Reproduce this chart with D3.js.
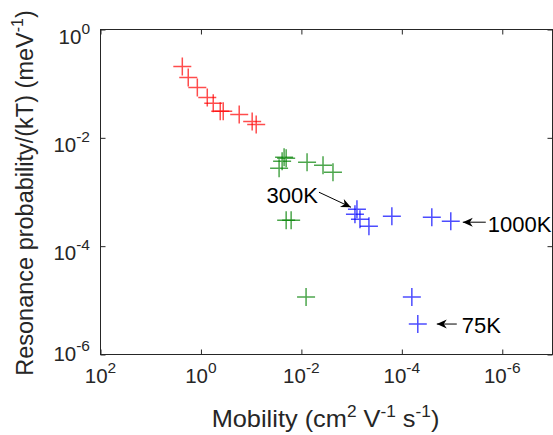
<!DOCTYPE html>
<html><head><meta charset="utf-8">
<script src="https://cdn.jsdelivr.net/npm/d3@7"></script>
<style>
html,body{margin:0;padding:0;background:#fff;}
svg{display:block;font-family:"Liberation Sans",Arial,Helvetica,sans-serif;}
</style></head>
<body>
<svg id="chart" width="553" height="435"></svg>
<script>
// ---- data ----
const redMobility   = [2.35, 1.79, 1.18, 0.748, 0.569, 0.413, 0.360, 0.173, 0.0955, 0.0794];
const redResonance  = [0.208, 0.130, 0.0853, 0.0558, 0.0433, 0.0308, 0.0308, 0.0271, 0.0201, 0.0177];
const greenMobility  = [0.0278, 0.0242, 0.0221, 0.0201, 0.00771, 0.00371, 0.00235, 0.0201, 0.0160, 0.00807];
const greenResonance = [0.00274, 0.00369, 0.00437, 0.00419, 0.00353, 0.00311, 0.00231, 0.000301, 0.000301, 1.15e-5];
const blueMobility   = [7.83e-4, 8.58e-4, 6.82e-4, 4.52e-4, 1.58e-4, 2.53e-5, 1.06e-5, 6.32e-5, 4.81e-5];
const blueResonance  = [4.81e-4, 3.89e-4, 3.15e-4, 2.34e-4, 3.57e-4, 3.42e-4, 2.89e-4, 1.15e-5, 3.65e-6];
const xTickValues = [1e2, 1e0, 1e-2, 1e-4, 1e-6];
const yTickValues = [1e0, 1e-2, 1e-4, 1e-6];
const annLabels = ["300K", "1000K", "75K"];
const annTargets = [0, 6, 8]; // indices into blue series

// ---- layout ----
const svg = d3.select("#chart");
const L = 100.5, R = 552.5, T = 29.5, B = 354.5;
const x = d3.scaleLog().domain([1e2, 1e-7]).range([L, R]);
const y = d3.scaleLog().domain([1e0, 1e-6]).range([T, B]);
const axisCol = "#262626";

// box
svg.append("rect").attr("x", L).attr("y", T).attr("width", R - L).attr("height", B - T)
  .attr("fill", "none").attr("stroke", axisCol).attr("stroke-width", 1);

// ticks (inward) via d3 axes
const tickLen = 5;
const axB = d3.axisBottom(x).tickValues(xTickValues).tickSize(-tickLen).tickFormat("");
const axT = d3.axisTop(x).tickValues(xTickValues).tickSize(-tickLen).tickFormat("");
const axLft = d3.axisLeft(y).tickValues(yTickValues).tickSize(-tickLen).tickFormat("");
const axRt = d3.axisRight(y).tickValues(yTickValues).tickSize(-tickLen).tickFormat("");
[[axB, `translate(0,${B})`], [axT, `translate(0,${T})`], [axLft, `translate(${L},0)`], [axRt, `translate(${R},0)`]]
  .forEach(([ax, tr]) => {
    const g = svg.append("g").attr("transform", tr).call(ax);
    g.select(".domain").remove();
    g.selectAll("line").attr("stroke", axisCol);
  });

function exp10(v) { return Math.round(Math.log10(v)); }

// x tick labels
xTickValues.forEach(v => {
  const t = svg.append("text").attr("x", x(v)).attr("y", 383).attr("text-anchor", "middle")
    .attr("fill", axisCol).attr("font-size", 20.5);
  t.append("tspan").text("10");
  t.append("tspan").attr("dy", -10).attr("font-size", 15.5).text(exp10(v));
});
// y tick labels
yTickValues.forEach(v => {
  const base = Math.min(y(v) + 14, B + 6);
  const t = svg.append("text").attr("x", 90).attr("y", base).attr("text-anchor", "end")
    .attr("fill", axisCol).attr("font-size", 20.5);
  t.append("tspan").text("10");
  t.append("tspan").attr("dy", -10).attr("font-size", 15.5).text(exp10(v));
});

// axis titles
const xt = svg.append("text").attr("transform", `translate(${(L + R) / 2 - 1},427) scale(1.08,1)`)
  .attr("text-anchor", "middle").attr("fill", axisCol).attr("font-size", 23.5);
xt.append("tspan").text("Mobility (cm");
xt.append("tspan").attr("dy", -10).attr("font-size", 16).text("2");
xt.append("tspan").attr("dy", 10).text(" V");
xt.append("tspan").attr("dy", -10).attr("font-size", 16).text("-1");
xt.append("tspan").attr("dy", 10).text(" s");
xt.append("tspan").attr("dy", -10).attr("font-size", 16).text("-1");
xt.append("tspan").attr("dy", 10).text(")");

const yt = svg.append("text").attr("transform", `translate(33,${(T + B) / 2 + 1}) rotate(-90)`)
  .attr("text-anchor", "middle").attr("fill", axisCol).attr("font-size", 23.5);
yt.append("tspan").text("Resonance probability/(kT) (meV");
yt.append("tspan").attr("dy", -10).attr("font-size", 16).text("-1");
yt.append("tspan").attr("dy", 10).text(")");

// markers
const hs = 9;
function plusSeries(xs, ys, col) {
  const pts = xs.map((v, i) => [x(v), y(ys[i])]);
  svg.append("g").selectAll("path").data(pts).join("path")
    .attr("d", d => `M${d[0] - hs},${d[1]}H${d[0] + hs}M${d[0]},${d[1] - hs}V${d[1] + hs}`)
    .attr("stroke", col).attr("stroke-width", 1.5).attr("stroke-opacity", 0.7).attr("fill", "none");
}
plusSeries(redMobility, redResonance, "#ff0000");
plusSeries(greenMobility, greenResonance, "#008000");
plusSeries(blueMobility, blueResonance, "#0000ff");

// annotations
function arrow(x1, y1, x2, y2) {
  svg.append("line").attr("x1", x1).attr("y1", y1).attr("x2", x2).attr("y2", y2)
    .attr("stroke", "#000").attr("stroke-width", 1);
  const a = Math.atan2(y2 - y1, x2 - x1);
  const len = 10, w = 4.5, notch = 7;
  const ux = Math.cos(a), uy = Math.sin(a);
  const p = [
    [x2, y2],
    [x2 - len * ux - w * uy, y2 - len * uy + w * ux],
    [x2 - notch * ux, y2 - notch * uy],
    [x2 - len * ux + w * uy, y2 - len * uy - w * ux]
  ];
  svg.append("path").attr("d", "M" + p.map(q => q.join(",")).join("L") + "Z").attr("fill", "#000");
}
const tgt = annTargets.map(i => [x(blueMobility[i]), y(blueResonance[i])]);
// 300K
arrow(tgt[0][0] - 38, tgt[0][1] - 17, tgt[0][0] - 6, tgt[0][1] - 2);
svg.append("text").attr("x", tgt[0][0] - 39).attr("y", tgt[0][1] - 6).attr("text-anchor", "end")
  .attr("font-size", 22).attr("fill", "#000").text(annLabels[0]);
// 1000K
arrow(tgt[1][0] + 35, tgt[1][1] + 1, tgt[1][0] + 12, tgt[1][1] + 1);
svg.append("text").attr("x", tgt[1][0] + 37).attr("y", tgt[1][1] + 11)
  .attr("font-size", 22).attr("fill", "#000").text(annLabels[1]);
// 75K
arrow(tgt[2][0] + 39, tgt[2][1], tgt[2][0] + 19, tgt[2][1]);
svg.append("text").attr("x", tgt[2][0] + 44).attr("y", tgt[2][1] + 9)
  .attr("font-size", 22).attr("fill", "#000").text(annLabels[2]);
</script>
</body></html>
